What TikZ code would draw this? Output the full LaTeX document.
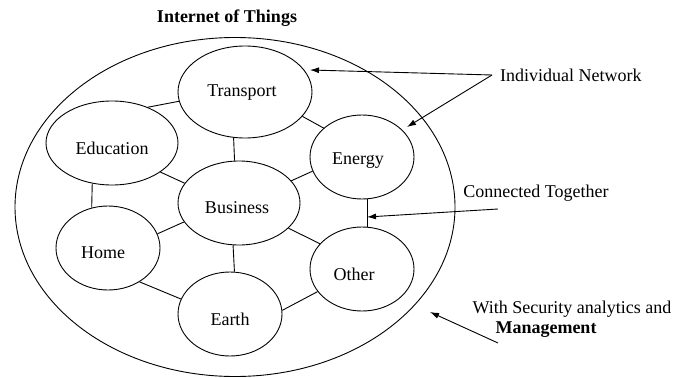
\documentclass[tikz,border=0pt]{standalone}
\usepackage{fontspec}
\setmainfont{Liberation Serif}
\usetikzlibrary{shapes.geometric,arrows.meta}
\begin{document}
\begin{tikzpicture}[x=1pt,y=-1pt,
  net/.style={draw,ellipse,line width=0.9pt,inner sep=0pt},
  link/.style={line width=0.9pt},
  lbl/.style={font=\fontsize{18}{21}\selectfont,inner sep=0pt},
  pointer/.style={line width=0.9pt,-{Latex[length=9pt,width=6pt]}}]
\useasboundingbox (0,0) rectangle (687,377);
\node[draw,ellipse,line width=0.9pt,minimum width=440pt,minimum height=339pt,inner sep=0pt] (iot) at (235,207) {};
\node[lbl,font=\fontsize{18}{21}\selectfont\bfseries] (title) at (227,18) {Internet of Things};
\node[net,minimum width=134pt,minimum height=92pt] (trans) at (245,92) {};
\node[lbl] at (242,93) {Transport};
\node[net,minimum width=132pt,minimum height=84pt] (edu) at (112,143) {};
\node[lbl] at (112,148) {Education};
\node[net,minimum width=104pt,minimum height=84pt] (energy) at (362,157) {};
\node[lbl] at (358,161) {Energy};
\node[net,minimum width=122pt,minimum height=84pt] (bus) at (239,203) {};
\node[lbl] at (237,208) {Business};
\node[net,minimum width=104pt,minimum height=84pt] (home) at (108,248) {};
\node[lbl] at (103,253) {Home};
\node[net,minimum width=104pt,minimum height=84pt] (other) at (362,269) {};
\node[lbl] at (354,274) {Other};
\node[net,minimum width=104pt,minimum height=84pt] (earth) at (230,314) {};
\node[lbl] at (230,319) {Earth};
% connectors
\draw[link] (edu.45) -- (trans.188);
\draw[link] (trans.-23) -- (energy.143);
\draw[link] (trans.256) -- (bus.96);
\draw[link] (edu.-31) -- (bus.160);
\draw[link] (energy.196) -- (bus.23);
\draw[link] (energy.-83) -- (other.83);
\draw[link] (edu.-116) -- (home.112);
\draw[link] (home.16) -- (bus.199);
\draw[link] (bus.-98) -- (earth.84);
\draw[link] (bus.-27) -- (other.149);
\draw[link] (home.-47) -- (earth.163);
\draw[link] (earth.4) -- (other.207);
% annotations
\node[lbl,anchor=west] (indiv) at (500,75) {Individual Network};
\node[lbl] (conn) at (536,193) {Connected Together};
\node[lbl] (sec) at (572,309) {With Security analytics and};
\node[lbl,font=\fontsize{18}{21}\selectfont\bfseries] (mgmt) at (546,330) {Management};
\coordinate (indivtail) at (492,75);
\coordinate (conntail) at (498,209);
\coordinate (sectail) at (498,343);
\coordinate (tipA) at (310,70);
\coordinate (tipB) at (407,127);
\coordinate (tipC) at (367,217);
\coordinate (tipD) at (430,312);
\draw[pointer] (indivtail) -- (tipA);
\draw[pointer] (indivtail) -- (tipB);
\draw[pointer] (conntail) -- (tipC);
\draw[pointer] (sectail) -- (tipD);
\end{tikzpicture}
\end{document}
